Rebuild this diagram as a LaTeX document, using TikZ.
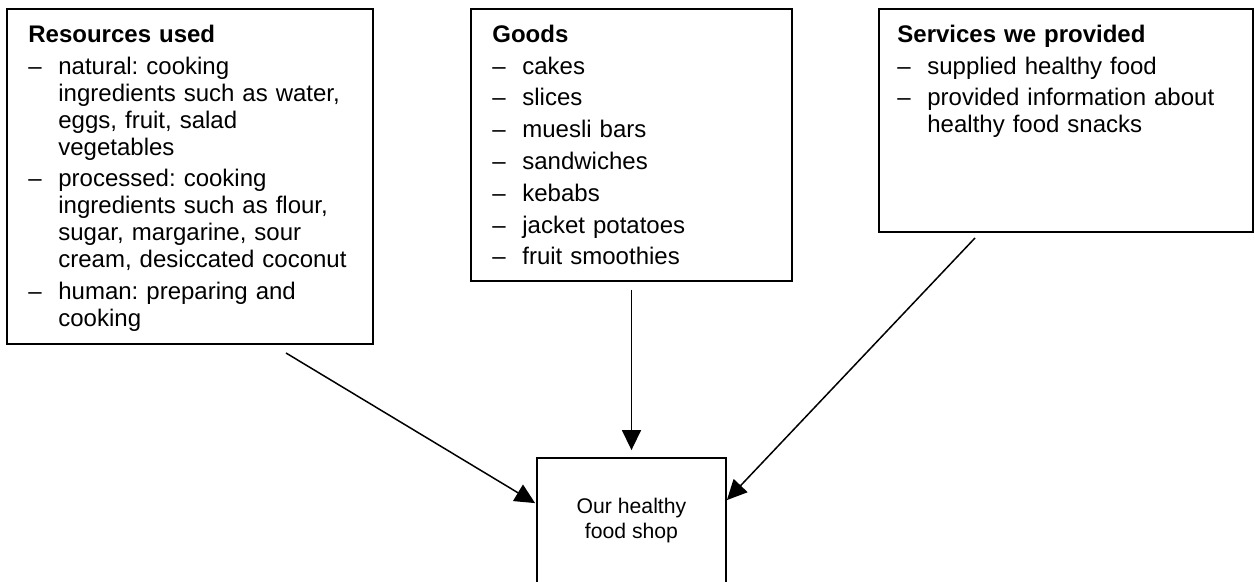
\documentclass[tikz,border=0pt]{standalone}
\usepackage{fontspec}
\setmainfont{Liberation Sans}
\usetikzlibrary{arrows.meta,calc}
\newcommand{\itm}[1]{\par\noindent\hangindent=15pt\hangafter=1\makebox[15pt][l]{\textendash}#1\par}
\tikzset{
  box/.style={draw, line width=0.9pt, rectangle, inner sep=0pt},
  txt/.style={anchor=north west, inner sep=0pt, align=left,
    font=\fontsize{12}{13.5}\selectfont,
    execute at begin node={\frenchspacing\setlength{\parskip}{2.4pt}\setlength{\parindent}{0pt}\rule{0pt}{10pt}}},
  arr/.style={line width=0.75pt, -{Triangle[length=10pt,width=9.5pt]}},
}
\begin{document}
\begin{tikzpicture}[x=0.5pt,y=-0.5pt]
\useasboundingbox (0,0) rectangle (1255,582);
\clip (0,0) rectangle (1255,582);
% boxes
\node[box, minimum width=183pt, minimum height=167.5pt] (res) at (190,176.5) {};
\node[box, minimum width=160.5pt, minimum height=136pt] (goods) at (631.5,145) {};
\node[box, minimum width=187pt, minimum height=111.5pt] (serv) at (1066,120.5) {};
\node[box, minimum width=94.5pt, minimum height=63pt, align=center,
      font=\fontsize{10.6}{12.5}\selectfont] (shop) at (631.5,521) {Our healthy\\food shop};
% texts
\node[txt, text width=172pt] (t1) at (28,22) {\textbf{Resources used}
\itm{natural: cooking\newline ingredients such as water,\newline eggs, fruit, salad\newline vegetables}
\itm{processed: cooking\newline ingredients such as flour,\newline sugar, margarine, sour\newline cream, desiccated coconut}
\itm{human: preparing and\newline cooking}};
\node[txt, text width=145pt] (t2) at (492,22) {\textbf{Goods}
\itm{cakes}
\itm{slices}
\itm{muesli bars}
\itm{sandwiches}
\itm{kebabs}
\itm{jacket potatoes}
\itm{fruit smoothies}};
\node[txt, text width=175pt] (t3) at (897,22) {\textbf{Services we provided}
\itm{supplied healthy food}
\itm{provided information about\newline healthy food snacks}};
% connectors
\coordinate (s1) at (286,353);
\coordinate (s2) at (631.5,290);
\coordinate (s3) at (975,238);
\draw[arr] (s1) -- ($(shop.north west)+(-1,46)$);
\draw[arr] (s2) -- ($(shop.north)+(0,-7)$);
\draw[arr] (s3) -- ($(shop.north east)+(0,43)$);
\end{tikzpicture}
\end{document}
